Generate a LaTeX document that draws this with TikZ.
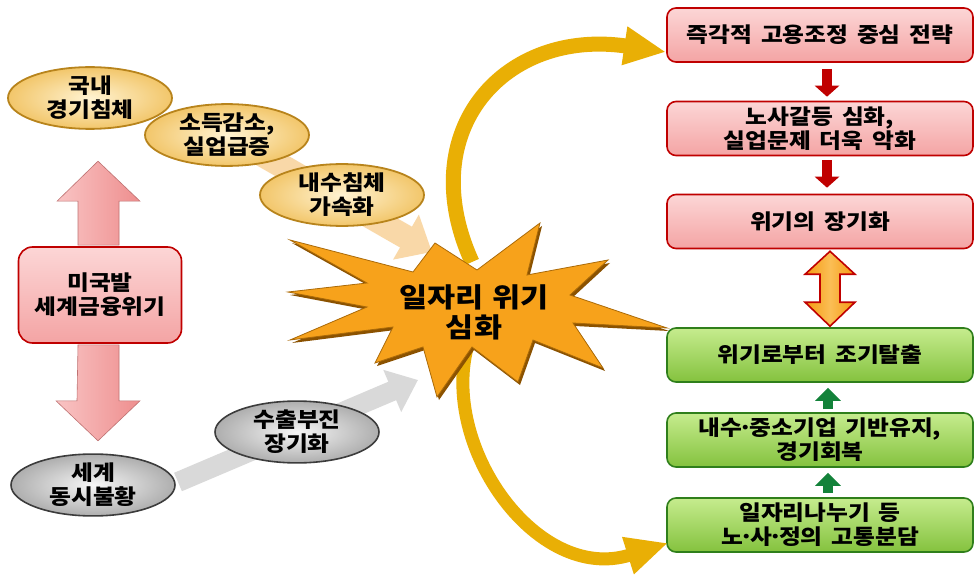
\documentclass[tikz,border=0pt]{standalone}
\usepackage{fontspec}
\setmainfont{Noto Sans CJK KR}[FakeStretch=1.13]
\usetikzlibrary{shapes.geometric,arrows.meta,calc}
\newcommand\krtxt{\bfseries\fontsize{21}{24}\selectfont\spaceskip 0.42em plus 0.1em\relax}
\newcommand\mdot{\makebox[0.34em]{·}}
\definecolor{boxred}{HTML}{C00000}
\definecolor{pinkT}{HTML}{FCD6D6}
\definecolor{pinkB}{HTML}{F4A4A4}
\definecolor{greenT}{HTML}{C6EC8E}
\definecolor{greenB}{HTML}{84C23E}
\definecolor{greenD}{HTML}{2F7F1B}
\definecolor{greenA}{HTML}{13823A}
\definecolor{ellIn}{HTML}{FFF3D2}
\definecolor{ellOut}{HTML}{F2C66A}
\definecolor{ellD}{HTML}{B8841C}
\definecolor{grayIn}{HTML}{F6F6F6}
\definecolor{grayOut}{HTML}{AEAEAE}
\definecolor{grayD}{HTML}{3C3C3C}
\definecolor{starO}{HTML}{F7A21B}
\definecolor{starD}{HTML}{8B5200}
\definecolor{goldA}{HTML}{E9AF05}
\definecolor{goldD}{HTML}{B88A00}
\definecolor{peach}{HTML}{F9D8A8}
\definecolor{grayA}{HTML}{D9D9D9}
\definecolor{pinkL}{HTML}{F9C4C4}
\definecolor{pinkR}{HTML}{EE8E8E}
\definecolor{dblO}{HTML}{F59A10}
\definecolor{dblL}{HTML}{FBBE55}
\tikzset{
  txt/.style={font=\krtxt},
  pinkbox/.style={txt, draw=boxred, line width=1.6pt, rounded corners=9pt,
    top color=pinkT, bottom color=pinkB, minimum width=306pt,
    minimum height=54pt, align=center, inner sep=0pt},
  greenbox/.style={txt, draw=greenD, line width=1.6pt, rounded corners=9pt,
    top color=greenT, bottom color=greenB, minimum width=306pt,
    minimum height=54pt, align=center, inner sep=0pt},
  goldell/.style={txt, ellipse, draw=ellD, line width=1.8pt, inner color=ellIn,
    outer color=ellOut, minimum width=164pt, minimum height=60pt,
    inner sep=0pt, align=center},
  grayell/.style={txt, ellipse, draw=grayD, line width=1.6pt, inner color=grayIn,
    outer color=grayOut, minimum width=164pt, minimum height=60pt,
    inner sep=0pt, align=center},
  redarrow/.style={line width=10pt, boxred, -{Triangle[length=11pt,width=24pt]}},
  greenarrow/.style={line width=10pt, greenA, -{Triangle[length=13pt,width=25pt]}},
  goldarrow/.style={line width=15pt, goldA, -{Triangle[length=42pt,width=36pt]}},
  blockpink/.style={left color=pinkL, right color=pinkR, draw=pinkR!80!black, line width=0.6pt},
}
\begin{document}
\begin{tikzpicture}[x=1pt,y=-1pt]
\useasboundingbox (0,0) rectangle (974,577);
\fill[white] (0,0) rectangle (974,577);

% right column boxes
\node[pinkbox] (p1) at (820,35) {즉각적 고용조정 중심 전략};
\node[pinkbox] (p2) at (820,128.5) {노사갈등 심화,\\실업문제 더욱 악화};
\node[pinkbox] (p3) at (820,221.5) {위기의 장기화};
\node[greenbox] (g1) at (820,355) {위기로부터 조기탈출};
\node[greenbox] (g2) at (820,440) {내수\mdot 중소기업 기반유지,\\경기회복};
\node[greenbox] (g3) at (820,525) {일자리나누기 등\\노\mdot 사\mdot 정의 고통분담};

\draw[redarrow] ($(p1.south)+(7,6)$) -- ($(p2.north)+(7,-4)$);
\draw[redarrow] ($(p2.south)+(7,4)$) -- ($(p3.north)+(7,-6)$);
\draw[greenarrow] ($(g2.north)+(8,-3)$) -- ($(g1.south)+(8,5)$);
\draw[greenarrow] ($(g3.north)+(8,-4)$) -- ($(g2.south)+(8,5)$);

% double arrow between p3 and g1
\path ($(p3.south)+(10,2)$) coordinate (da) ($(g1.north)+(10,-1)$) coordinate (db);
\draw[boxred, line width=1.6pt, left color=dblO, right color=dblO, middle color=dblL]
  (da) -- ++(25,23) -- ++(-15,0) -- ($(db)+(10,-24)$) -- ++(15,0) -- (db)
  -- ++(-25,-24) -- ++(15,0) -- ($(da)+(-10,23)$) -- ++(-15,0) -- cycle;

% connectors behind ellipses
\coordinate (peachEnd) at (432,252);
\coordinate (grayStart) at (178,482);
\coordinate (grayEnd) at (418,380);
\coordinate (peachStart) at (240,142);
\draw[line width=24pt, peach, -{Triangle[length=30pt,width=50pt]}] (peachStart) -- (peachEnd);
\draw[line width=20pt, grayA, -{Triangle[length=28pt,width=44pt]}] (grayStart) -- (grayEnd);

% left ellipses
\node[goldell] (e1) at (90,98) {국내\\경기침체};
\node[goldell] (e2) at (227,135) {소득감소,\\실업급증};
\node[goldell] (e3) at (342,195) {내수침체\\가속화};
\node[grayell] (s1) at (93,485) {세계\\동시불황};
\node[grayell] (s2) at (297,432) {수출부진\\장기화};

% left pink box and block arrows
\node[txt, draw=boxred, line width=1.6pt, rounded corners=14pt, top color=pinkT,
  bottom color=pinkB, minimum width=163pt, minimum height=96pt, align=center,
  inner sep=0pt] (L) at (100,295) {미국발\\세계금융위기};
\path[blockpink] ($(L.north)+(-2,-85)$) -- ++(42,40) -- ++(-21,0) -- ($(L.north)+(19,-1)$)
  -- ($(L.north)+(-22,-1)$) -- ++(0,-44) -- ++(-21,0) -- cycle;
\path[blockpink] ($(L.south)+(-22,1)$) -- ($(L.south)+(19,1)$) -- ++(0,56) -- ++(21,0)
  -- ($(L.south)+(-2,97)$) -- ++(-42,-40) -- ++(21,0) -- cycle;

% curved gold arrows (behind star)
\coordinate (u0) at (472,262);
\coordinate (u1) at (666,52);
\coordinate (l0) at (470,338);
\coordinate (l1) at (668,543);
\draw[goldarrow] (u0) .. controls (412,130) and (505,28) .. (u1);
\draw[goldarrow, line width=13pt] (l0) .. controls (435,440) and (535,585) .. (l1);

% star
\def\starpath{(288,292) -- (367,283) -- (290,240) -- (413,272) -- (435,243) -- (477,270)
  -- (540,223) -- (527,275) -- (608,260) -- (570,295) -- (667,328) -- (573,323)
  -- (603,368) -- (533,340) -- (518,382) -- (472,347) -- (437,397) -- (423,347)
  -- (375,363) -- (393,327) -- (290,340) -- (367,307) -- cycle}
\begin{scope}[shift={(2,3)}]
\fill[starD] \starpath;
\end{scope}
\draw[starO, fill=starO, line width=0.8pt, draw=starD!70!starO] \starpath;
\node[font=\bfseries\fontsize{27}{30}\selectfont\spaceskip 0.35em\relax, align=center] (star) at (474,312) {일자리 위기\\심화};
\end{tikzpicture}
\end{document}
